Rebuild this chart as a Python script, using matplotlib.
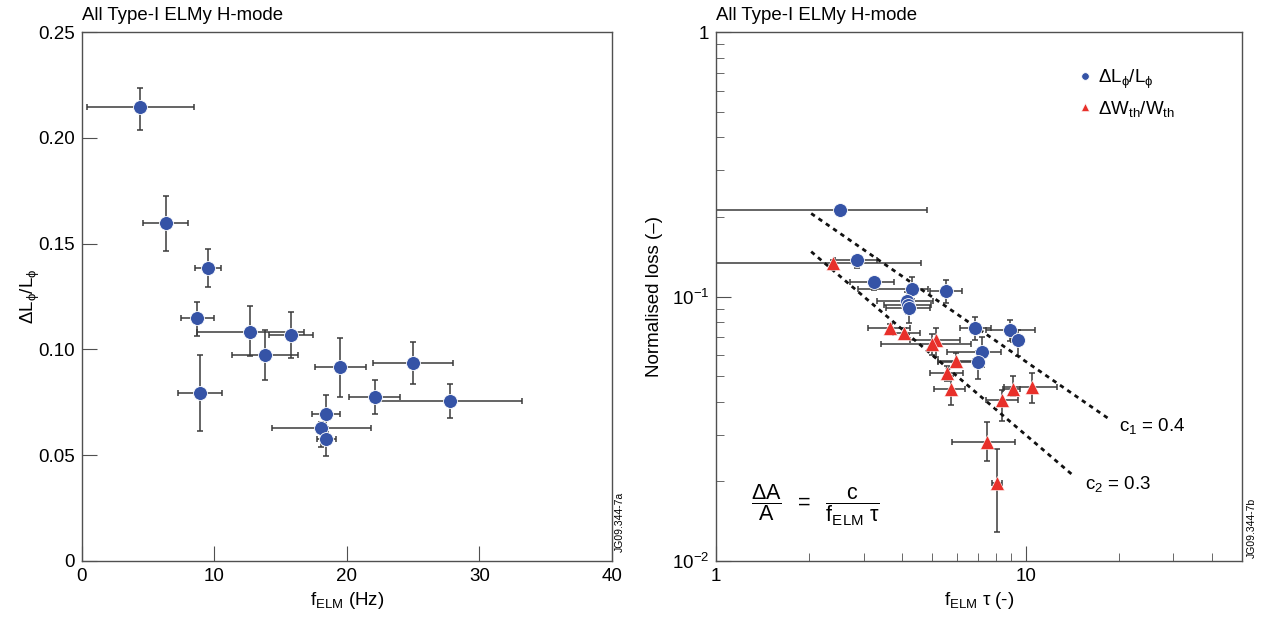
import numpy as np
import matplotlib
matplotlib.use("Agg")
import matplotlib.pyplot as plt

plt.rcParams['font.family'] = ['Liberation Sans', 'DejaVu Sans']
plt.rcParams['mathtext.fontset'] = 'custom'
plt.rcParams['mathtext.rm'] = 'Liberation Sans'
plt.rcParams['mathtext.it'] = 'Liberation Sans'
plt.rcParams['mathtext.bf'] = 'Liberation Sans:bold'
plt.rcParams['mathtext.sf'] = 'Liberation Sans'

# left panel: dL/L vs f_ELM
f_elm = [4.40, 6.34, 9.51, 8.70, 12.70, 15.75, 13.81, 8.88, 19.47, 24.98, 22.11, 27.80, 18.42, 18.06, 18.44]
f_lo = [0.40, 4.60, 8.53, 7.45, 8.70, 14.09, 11.32, 7.27, 17.61, 21.99, 20.17, 22.36, 17.38, 14.36, 17.76]
f_hi = [8.43, 8.02, 10.51, 9.99, 16.75, 17.41, 16.30, 10.54, 21.43, 27.98, 24.00, 33.21, 19.47, 21.79, 19.17]
dl = [0.2147, 0.1597, 0.1385, 0.1147, 0.1084, 0.1067, 0.0975, 0.0796, 0.0916, 0.0936, 0.0775, 0.0757, 0.0695, 0.0627, 0.0575]
dl_lo = [0.2037, 0.1467, 0.1297, 0.1065, 0.0968, 0.0959, 0.0856, 0.0616, 0.0775, 0.0835, 0.0695, 0.0676, 0.0634, 0.0539, 0.0495]
dl_hi = [0.2237, 0.1727, 0.1475, 0.1226, 0.1207, 0.1176, 0.1094, 0.0974, 0.1056, 0.1037, 0.0856, 0.0835, 0.0786, 0.0657, 0.0610]

# right panel: momentum loss (blue)
bx = [2.52, 2.86, 3.24, 4.30, 5.55, 4.15, 4.18, 4.20, 6.88, 8.88, 9.47, 7.25, 7.02]
bx_lo = [0.5, 2.42, 2.71, 2.88, 4.91, 3.30, 3.50, 3.55, 6.12, 7.47, 9.0, 5.57, 5.22]
bx_hi = [4.82, 3.30, 3.77, 4.84, 6.23, 5.01, 4.95, 4.90, 7.74, 10.7, 9.9, 8.32, 7.32]
by = [0.212, 0.137, 0.113, 0.107, 0.105, 0.0964, 0.093, 0.0902, 0.0762, 0.0745, 0.0685, 0.0615, 0.0567]
by_lo = [0.205, 0.128, 0.106, 0.098, 0.0946, 0.089, 0.086, 0.0797, 0.0685, 0.068, 0.0596, 0.0543, 0.0487]
by_hi = [0.219, 0.142, 0.119, 0.1187, 0.115, 0.104, 0.100, 0.097, 0.0833, 0.0813, 0.075, 0.0702, 0.062]

# right panel: energy loss (red)
rx = [2.38, 3.65, 4.05, 5.13, 5.00, 5.98, 5.59, 5.76, 9.10, 10.5, 8.41, 7.50, 8.11]
rx_lo = [0.5, 3.10, 3.72, 4.23, 3.42, 5.21, 4.90, 5.05, 8.43, 8.50, 7.47, 5.79, 7.80]
rx_hi = [4.58, 4.23, 4.55, 6.13, 6.67, 6.75, 6.27, 6.39, 9.59, 12.6, 9.45, 9.22, 8.40]
ry = [0.134, 0.0758, 0.0730, 0.0685, 0.0660, 0.0570, 0.0513, 0.0446, 0.0446, 0.0454, 0.0406, 0.0283, 0.0197]
ry_lo = [0.131, 0.073, 0.0705, 0.0590, 0.060, 0.0540, 0.0480, 0.0389, 0.042, 0.0397, 0.0337, 0.0238, 0.0129]
ry_hi = [0.137, 0.0790, 0.0760, 0.0757, 0.072, 0.0611, 0.0545, 0.0499, 0.0501, 0.0512, 0.0445, 0.0334, 0.0266]

# scaling lines c/(f tau)
c1_x = [2.03, 18.9]
c1_y = [0.206, 0.034]
c2_x = [2.03, 14.4]
c2_y = [0.3 / 2.03, 0.3 / 14.4]

BLUE = '#3553a6'
RED = '#e8302a'
FS = 13.5


def errs(v, lo, hi):
    v = np.array(v)
    return [v - np.array(lo), np.array(hi) - v]


def style_axes(ax):
    for s in ax.spines.values():
        s.set_color('#505050')
        s.set_linewidth(1.0)
    ax.tick_params(which='both', direction='in', top=False, right=False,
                   labelsize=FS, color='#505050', pad=5)
    ax.tick_params(which='major', length=11)
    ax.tick_params(which='minor', length=6)


fig = plt.figure(figsize=(12.65, 6.19), dpi=100)
ax1 = fig.add_axes([0.0648, 0.0937, 0.419, 0.8546])
ax2 = fig.add_axes([0.566, 0.0937, 0.4158, 0.8546])

# ---- left
ax1.errorbar(f_elm, dl, xerr=errs(f_elm, f_lo, f_hi), yerr=errs(dl, dl_lo, dl_hi),
             fmt='none', ecolor='#3a3a3a', elinewidth=1.1, capsize=2.3, capthick=1.1, zorder=2)
ax1.plot(f_elm, dl, 'o', color=BLUE, ms=10, mec='white', mew=0.6, zorder=3)
ax1.set_xlim(0, 40)
ax1.set_ylim(0, 0.25)
ax1.set_xticks([0, 10, 20, 30, 40])
ax1.set_yticks([0, 0.05, 0.10, 0.15, 0.20, 0.25])
ax1.set_yticklabels(['0', '0.05', '0.10', '0.15', '0.20', '0.25'])
style_axes(ax1)
ax1.set_xlabel(r'$\mathregular{f_{ELM}}$ (Hz)', fontsize=FS)
ax1.xaxis.set_label_coords(0.5, -0.055)
ax1.set_ylabel(r'$\mathregular{\Delta L_{\phi}/L_{\phi}}$', fontsize=FS)
ax1.yaxis.set_label_coords(-0.075, 0.5)

# ---- right
ax2.set_xscale('log')
ax2.set_yscale('log')
ax2.errorbar(bx, by, xerr=errs(bx, bx_lo, bx_hi), yerr=errs(by, by_lo, by_hi),
             fmt='none', ecolor='#3a3a3a', elinewidth=1.1, capsize=2.3, capthick=1.1, zorder=2)
ax2.errorbar(rx, ry, xerr=errs(rx, rx_lo, rx_hi), yerr=errs(ry, ry_lo, ry_hi),
             fmt='none', ecolor='#3a3a3a', elinewidth=1.1, capsize=2.3, capthick=1.1, zorder=2)
ax2.plot(c1_x, c1_y, color='#111111', lw=2.0, ls=(0, (1.6, 1.6)), zorder=4)
ax2.plot(c2_x, c2_y, color='#111111', lw=2.0, ls=(0, (1.6, 1.6)), zorder=4)
ax2.plot(bx, by, 'o', color=BLUE, ms=10, mec='white', mew=0.6, zorder=5,
         label=r'$\mathregular{\Delta L_{\phi}/L_{\phi}}$')
ax2.plot(rx, ry, '^', color=RED, ms=10, mec='white', mew=0.4, zorder=5,
         label=r'$\mathregular{\Delta W_{th}/W_{th}}$')
ax2.set_xlim(1, 50)
ax2.set_ylim(0.01, 1)
ax2.set_xticks([1, 10])
ax2.set_xticklabels(['1', '10'])
ax2.set_yticks([0.01, 0.1, 1])
ax2.set_yticklabels([r'$\mathregular{10^{-2}}$', r'$\mathregular{10^{-1}}$', '1'])
ax2.xaxis.set_minor_formatter(matplotlib.ticker.NullFormatter())
ax2.yaxis.set_minor_formatter(matplotlib.ticker.NullFormatter())
style_axes(ax2)
ax2.set_xlabel(r'$\mathregular{f_{ELM}\ \tau}$ (-)', fontsize=FS)
ax2.xaxis.set_label_coords(0.5, -0.055)
ax2.set_ylabel('Normalised loss (–)', fontsize=FS)
ax2.yaxis.set_label_coords(-0.10, 0.5)

ax2.legend(loc='upper left', bbox_to_anchor=(0.655, 0.965), frameon=False,
           fontsize=FS, markerscale=0.55, handlelength=0.8, handletextpad=0.3,
           labelspacing=0.45)

ax2.text(20.1, 0.0325, r'$\mathregular{c_1}$ = 0.4', fontsize=FS, va='center', ha='left')
ax2.text(15.5, 0.0196, r'$\mathregular{c_2}$ = 0.3', fontsize=FS, va='center', ha='left')
ax2.text(1.3, 0.0163, r'$\dfrac{\Delta A}{A}\ \ =\ \ \dfrac{c}{f_{ELM}\ \tau}$', fontsize=15.5,
         va='center', ha='left')

fig.text(82 / 1265, 1 - 15 / 619, 'All Type-I ELMy H-mode', fontsize=13.4, ha='left', va='center')
fig.text(716 / 1265, 1 - 15 / 619, 'All Type-I ELMy H-mode', fontsize=13.4, ha='left', va='center')
fig.text(620 / 1265, 1 - 522 / 619, 'JG09.344-7a', fontsize=7.5, rotation=90, ha='center', va='center')
fig.text(1252 / 1265, 1 - 528 / 619, 'JG09.344-7b', fontsize=7.5, rotation=90, ha='center', va='center')

fig.savefig('out.png', dpi=100)
